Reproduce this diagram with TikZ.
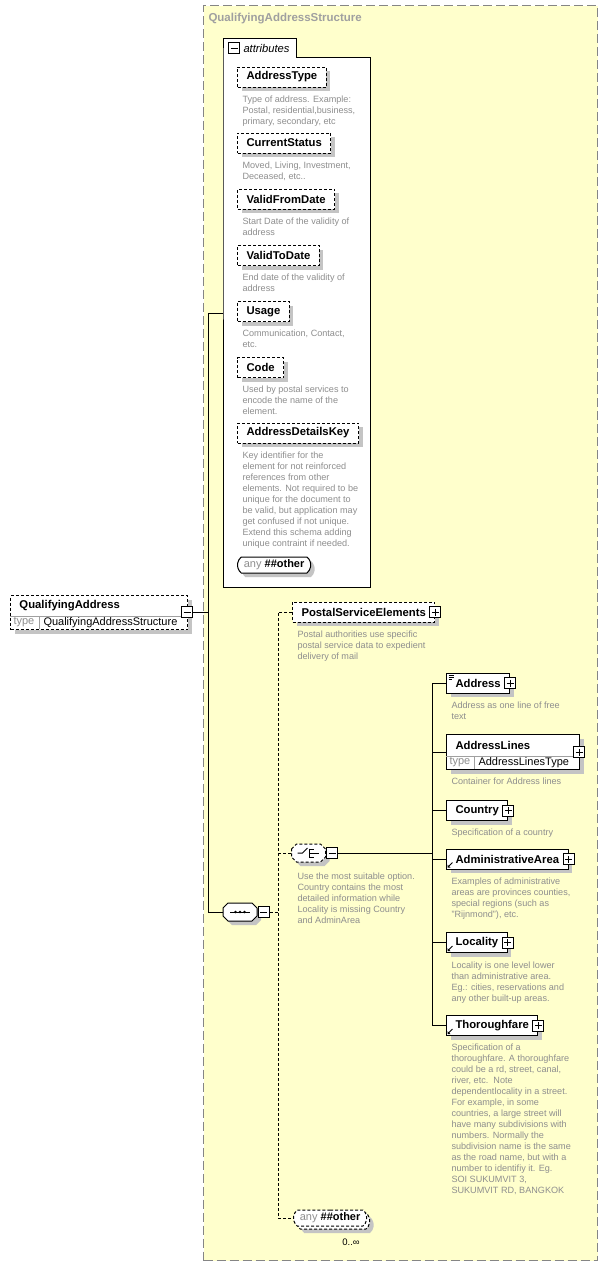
\documentclass[tikz,border=0pt]{standalone}
\usepackage{fontspec}
\setmainfont{Liberation Sans}
\usetikzlibrary{shapes.misc}

\definecolor{panelfill}{HTML}{FFFFCC}
\definecolor{panelrule}{HTML}{858585}
\definecolor{shadowgray}{HTML}{C4C4C4}
\definecolor{doctext}{HTML}{8E8E8E}
\definecolor{headtext}{HTML}{A0A0A0}
\definecolor{cellrule}{HTML}{A0A0A0}

% octagonal compositor outline centred on (#1,#2)
\newcommand\octpath[2]{(#1-17,#2-4) -- (#1-12,#2-9) -- (#1+12,#2-9) -- (#1+17,#2-4) -- (#1+17,#2+4) -- (#1+12,#2+9) -- (#1-12,#2+9) -- (#1-17,#2+4) -- cycle}

\tikzset{
  shadowed/.style={preaction={fill=shadowgray, transform canvas={shift={(4pt,-4pt)}}}},
  namefont/.style={font=\bfseries\fontsize{11.3}{13}\selectfont},
  plainfont/.style={font=\fontsize{11}{13}\selectfont},
  elbox/.style={draw, fill=white, shadowed, anchor=west, minimum height=20pt,
    inner xsep=9pt, inner ysep=0pt, namefont},
  optbox/.style={elbox, dash pattern=on 3pt off 2pt},
  doc/.style={anchor=north west, inner sep=0pt, align=left, text=doctext,
    font=\fontsize{9.1}{11}\selectfont},
  toggle/.style={draw, solid, fill=white, minimum size=11pt, inner sep=0pt},
  expand/.style={toggle, path picture={
    \draw ([xshift=2pt]path picture bounding box.west) -- ([xshift=-2pt]path picture bounding box.east);
    \draw ([yshift=-2pt]path picture bounding box.north) -- ([yshift=2pt]path picture bounding box.south);}},
  collapse/.style={toggle, path picture={
    \draw ([xshift=2pt]path picture bounding box.west) -- ([xshift=-2pt]path picture bounding box.east);}},
  compositor/.style={minimum width=34pt, minimum height=18pt, inner sep=0pt},
  wildcard/.style={rounded rectangle, rounded rectangle arc length=100, draw, fill=white,
    minimum height=16pt, inner xsep=5pt, inner ysep=0pt, plainfont},
  link/.style={line width=1pt},
  optlink/.style={line width=1pt, dash pattern=on 3pt off 2pt},
  refmark/.pic={\fill (0,0) -- (3,0) -- (0,-3) -- cycle; \draw[line width=0.9pt] (1,-1) -- (5,-5);},
}

\begin{document}
\begin{tikzpicture}[x=1pt, y=-1pt, line width=1pt]
\useasboundingbox (0,0) rectangle (608,1266);

% complex type panel
\node[draw=panelrule, fill=panelfill, dash pattern=on 9pt off 4pt, anchor=north west,
  minimum width=394pt, minimum height=1255pt, inner sep=0pt] (ctype) at (203,5) {};
\node[anchor=west, inner sep=0pt, text=headtext, font=\bfseries\fontsize{11.5}{13}\selectfont]
  (ctitle) at (208,19) {QualifyingAddressStructure};

% attribute group
\draw[fill=white] (223,57) -- (223,38) -- (296,38) -- (296,57) -- (370,57) -- (370,587) -- (223,587) -- cycle;
\node[minimum width=147pt, minimum height=530pt, inner sep=0pt, anchor=north west] (attrs) at (223,57) {};
\node[collapse, anchor=west] (attrtoggle) at (228,48) {};
\node[anchor=west, inner sep=0pt, font=\itshape\fontsize{11.2}{13}\selectfont] (attrlabel) at (243,48) {attributes};

\node[optbox] (addrtype) at (237,77) {AddressType};
\node[doc] (addrtypedoc) at (242,95) {Type of address. Example:\\Postal, residential,business,\\primary, secondary, etc};
\node[optbox] (curstatus) at (237,143) {CurrentStatus};
\node[doc] (curstatusdoc) at (242,161) {Moved, Living, Investment,\\Deceased, etc..};
\node[optbox] (validfrom) at (237,199) {ValidFromDate};
\node[doc] (validfromdoc) at (242,217) {Start Date of the validity of\\address};
\node[optbox] (validto) at (237,255.5) {ValidToDate};
\node[doc] (validtodoc) at (242,273) {End date of the validity of\\address};
\node[optbox] (usage) at (237,311.5) {Usage};
\node[doc] (usagedoc) at (242,329) {Communication, Contact,\\etc.};
\node[optbox] (code) at (237,367.5) {Code};
\node[doc] (codedoc) at (242,385) {Used by postal services to\\encode the name of the\\element.};
\node[optbox] (detailskey) at (237,433) {AddressDetailsKey};
\node[doc] (detailskeydoc) at (242,451) {Key identifier for the\\element for not reinforced\\references from other\\elements. Not required to be\\unique for the document to\\be valid, but application may\\get confused if not unique.\\Extend this schema adding\\unique contraint if needed.};
\node[wildcard, shadowed, anchor=west] (attrany) at (237,565) {\textcolor{doctext}{any} \textbf{\#\#other}};

% root element
\node[draw, fill=white, shadowed, dash pattern=on 3pt off 2pt, anchor=north west,
  minimum width=177pt, minimum height=34pt, inner sep=0pt] (qa) at (10,595) {};
\draw[cellrule, line width=0.8pt] (10,616) -- (187,616) (39,616) -- (39,629);
\node[anchor=west, inner sep=0pt, namefont] (qaname) at (19,605.5) {QualifyingAddress};
\node[anchor=west, inner sep=0pt, plainfont, text=doctext] (qatypekey) at (13,622.5) {type};
\node[anchor=west, inner sep=0pt, plainfont] (qatypeval) at (43,622.5) {QualifyingAddressStructure};
\node[collapse, anchor=west] (qatoggle) at (181,612) {};

% sequence compositor
\fill[shadowgray] \octpath{244}{916};
\draw[fill=white] \octpath{240}{912};
\node[compositor] (seq) at (240,912) {};
\node[collapse, anchor=west] (seqtoggle) at (seq.east) {};
\draw ([xshift=-10pt]seq.center) -- ([xshift=10pt]seq.center);
\foreach \dx in {-4.5,0,4.5} \fill ([xshift=\dx pt]seq.center) circle (1.3pt);

\node[optbox] (postal) at (292,612) {PostalServiceElements\hspace{4pt}};
\node[expand] (postaltoggle) at (postal.east) {};
\node[doc] (postaldoc) at (297,630) {Postal authorities use specific\\postal service data to expedient\\delivery of mail};

% choice compositor
\fill[shadowgray] \octpath{312.5}{857};
\draw[fill=white, dash pattern=on 3pt off 2pt] \octpath{308.5}{853};
\node[compositor] (choice) at (308.5,853) {};
\node[collapse, anchor=west] (choicetoggle) at (choice.east) {};
\draw ([xshift=-11pt]choice.center) -- ([xshift=-6pt]choice.center) -- ([shift={(-1pt,5pt)}]choice.center);
\draw ([shift={(1pt,4.5pt)}]choice.center) -- ([shift={(1pt,-4.5pt)}]choice.center);
\draw ([shift={(1pt,4pt)}]choice.center) -- ([shift={(5pt,4pt)}]choice.center)
      ([shift={(1pt,0pt)}]choice.center) -- ([shift={(10pt,0pt)}]choice.center)
      ([shift={(1pt,-4pt)}]choice.center) -- ([shift={(5pt,-4pt)}]choice.center);
\node[doc] (choicedoc) at (297,872) {Use the most suitable option.\\Country contains the most\\detailed information while\\Locality is missing Country\\and AdminArea};

\node[elbox] (address) at (446,683) {Address\hspace{4pt}};
\node[expand] (addresstoggle) at (address.east) {};
\draw[line width=0.7pt] (448.5,675.5) -- (454,675.5) (448.5,677.5) -- (454,677.5) (448.5,679.5) -- (452,679.5);
\node[doc] (addressdoc) at (451,701) {Address as one line of free\\text};

\node[draw, fill=white, shadowed, anchor=north west, minimum width=133pt, minimum height=35pt, inner sep=0pt] (alines) at (446,734) {};
\draw[cellrule, line width=0.8pt] (446,756) -- (579,756) (474,756) -- (474,769);
\node[anchor=west, inner sep=0pt, namefont] (alinesname) at (455,745) {AddressLines};
\node[anchor=west, inner sep=0pt, plainfont, text=doctext] (alinestypekey) at (449,762.5) {type};
\node[anchor=west, inner sep=0pt, plainfont] (alinestypeval) at (478,762.5) {AddressLinesType};
\node[expand] (alinestoggle) at (579,752) {};
\node[doc] (alinesdoc) at (451,777) {Container for Address lines};

\node[elbox] (country) at (446,810.5) {Country\hspace{4pt}};
\node[expand] (countrytoggle) at (country.east) {};
\node[doc] (countrydoc) at (451,828) {Specification of a country};

\node[elbox] (admin) at (446,859) {AdministrativeArea\hspace{4pt}};
\node[expand] (admintoggle) at (admin.east) {};
\pic at ([shift={(1.5pt,2pt)}]admin.south west) {refmark};
\node[doc] (admindoc) at (451,877) {Examples of administrative\\areas are provinces counties,\\special regions (such as\\"Rijnmond"), etc.};

\node[elbox] (locality) at (446,942.5) {Locality\hspace{4pt}};
\node[expand] (localitytoggle) at (locality.east) {};
\pic at ([shift={(1.5pt,2pt)}]locality.south west) {refmark};
\node[doc] (localitydoc) at (451,961) {Locality is one level lower\\than administrative area.\\Eg.: cities, reservations and\\any other built-up areas.};

\node[elbox] (thor) at (446,1025.5) {Thoroughfare\hspace{4pt}};
\node[expand] (thortoggle) at (thor.east) {};
\pic at ([shift={(1.5pt,2pt)}]thor.south west) {refmark};
\node[doc] (thordoc) at (451,1043) {Specification of a\\thoroughfare. A thoroughfare\\could be a rd, street, canal,\\river, etc.\ \ Note\\dependentlocality in a street.\\For example, in some\\countries, a large street will\\have many subdivisions with\\numbers. Normally the\\subdivision name is the same\\as the road name, but with a\\number to identifiy it. Eg.\\SOI SUKUMVIT 3,\\SUKUMVIT RD, BANGKOK};

% repeated wildcard: stacked outline behind the front one
\node[wildcard, dash pattern=on 3pt off 2pt, shadowed, anchor=west] (anyback) at (296,1221) {\phantom{any \textbf{\#\#other}}};
\node[wildcard, dash pattern=on 3pt off 2pt, anchor=west] (anyo) at (293,1218) {\textcolor{doctext}{any} \textbf{\#\#other}};
\node[inner sep=0pt, font=\fontsize{9.5}{11}\selectfont] (anyocount) at (351,1242) {0..∞};

% connectors
\coordinate (busTop) at (208,313);
\coordinate (busBot) at (208,912);
\draw[link] (qatoggle.east) -- (qatoggle.east -| busTop);
\draw[link] (attrs.west |- busTop) -- (busTop) -- (busBot) -- (seq.west);

\coordinate (optTop) at (278,612);
\coordinate (optBot) at (278,1218);
\draw[optlink] (seqtoggle.east) -- (seqtoggle.east -| optTop);
\draw[optlink] (postal.west) -- (optTop) -- (optBot) -- (anyo.west);
\draw[optlink] (choice.west) -- (choice.west -| optTop);

\coordinate (chTop) at (432,683);
\coordinate (chBot) at (432,1025.5);
\draw[link] (choicetoggle.east) -- (choicetoggle.east -| chTop);
\draw[link] (address.west) -- (chTop) -- (chBot) -- (thor.west);
\foreach \n in {alines, country, admin, locality}
  \draw[link] (\n.west) -- (\n.west -| chTop);
\end{tikzpicture}
\end{document}
